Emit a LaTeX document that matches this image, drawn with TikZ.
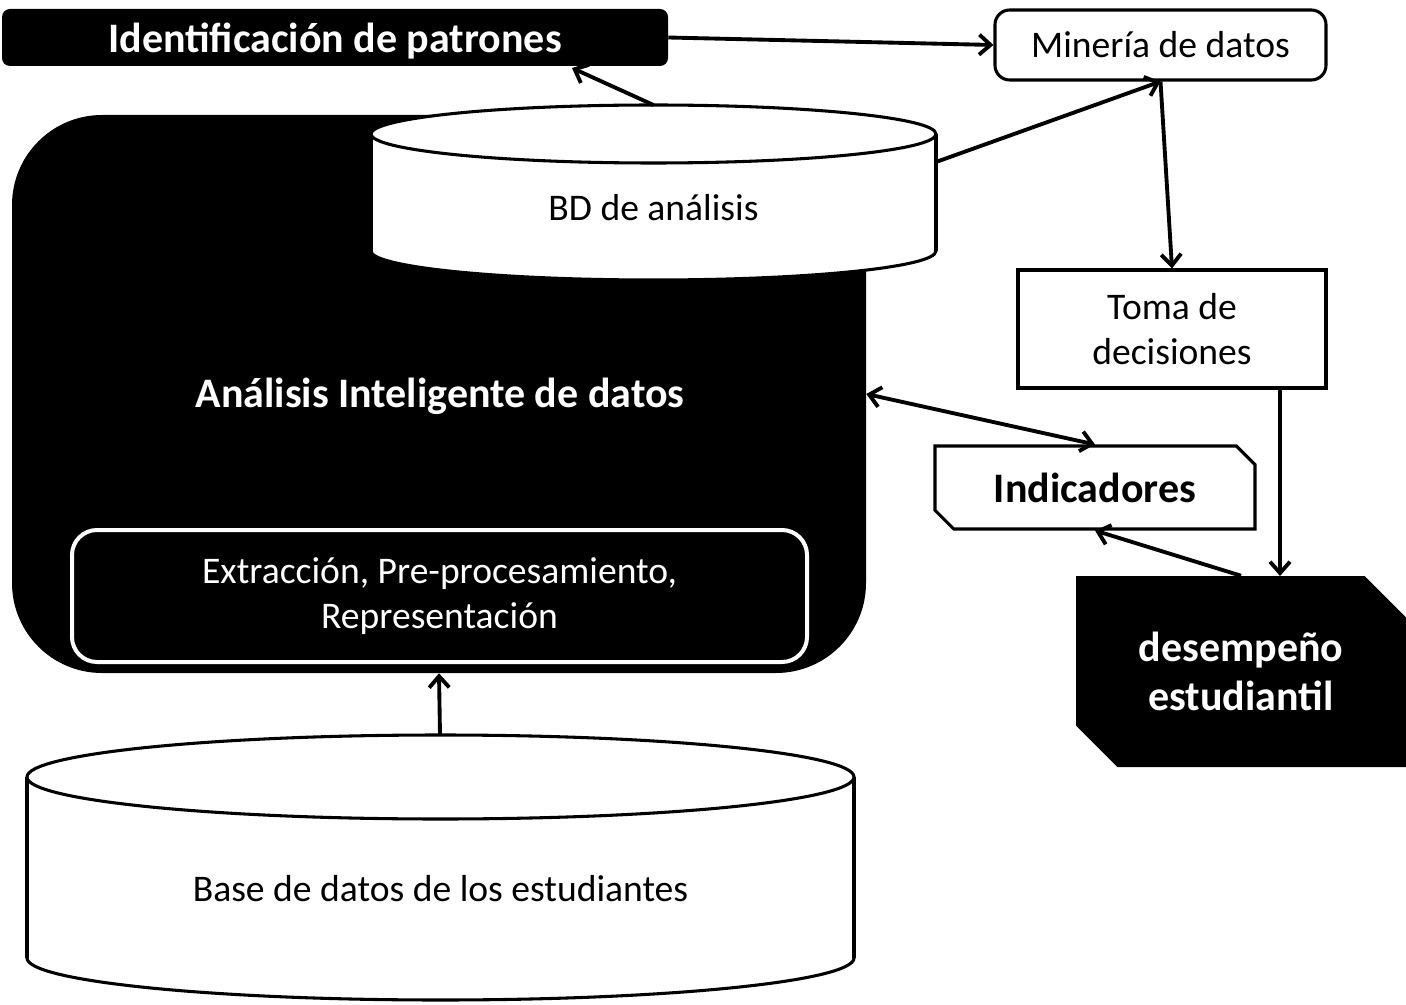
\documentclass[tikz,border=0pt]{standalone}
\usepackage{fontspec}
\setmainfont{Carlito}
\usetikzlibrary{arrows.meta,shapes.misc}
\begin{document}
\begin{tikzpicture}[x=0.75pt,y=-0.75pt,
  regtext/.style={font=\fontsize{28.2}{33.5}\selectfont, align=center},
  boldtext/.style={font=\fontsize{31.5}{36.75}\selectfont\bfseries, align=center},
  outline/.style={draw=black, line width=2.3pt},
  tip/.style={},
  arr/.style={line width=2.9pt, -{Straight Barb[length=8.5pt,width=15pt,line width=2.9pt]}},
  darr/.style={line width=2.9pt, {Straight Barb[length=8.5pt,width=15pt,line width=2.9pt]}-{Straight Barb[length=8.5pt,width=15pt,line width=2.9pt]}},
  cutbox/.style={chamfered rectangle, chamfered rectangle corners={north east,south west}, inner sep=0pt}
]
\fill[white] (0,0) rectangle (1406,1005);
\useasboundingbox (0,0) rectangle (1406,1005);

% Identificacion de patrones
\node[fill=black, rounded corners=6pt, minimum width=499.5pt, minimum height=42.75pt, inner sep=0pt, text depth=0pt, text=white, boldtext] (idp) at (335,37.5) {Identificación de patrones};

% Mineria de datos
\node[outline, fill=white, rounded corners=11pt, minimum width=248.25pt, minimum height=52.5pt, inner sep=0pt, regtext] (min) at (1160.5,45) {Minería de datos};

% Big black rounded box
\node[fill=black, rounded corners=67.5pt, minimum width=640.5pt, minimum height=418.5pt, inner sep=0pt] (big) at (439,394) {};
\node[boldtext, text=white] (ana) at (440,396) {Análisis Inteligente de datos};

% BD de analisis cylinder
\fill[white] (371,134) rectangle (936,251);
\fill[white] (653.5,251) ellipse [x radius=282.5, y radius=29];
\begin{scope}
  \clip (350,251) rectangle (960,300);
  \draw[line width=2.3pt] (653.5,251) ellipse [x radius=282.5, y radius=29];
\end{scope}
\draw[line width=2.3pt] (371,134) -- (371,251);
\draw[line width=2.3pt] (936,134) -- (936,251);
\draw[line width=2.3pt, fill=white] (653.5,134) ellipse [x radius=282.5, y radius=29];
\node[regtext] (bd) at (653.5,208) {BD de análisis};
\coordinate (bdT) at (653.5,105);
\coordinate (bdR) at (936,162);

% Extraccion box
\node[draw=white, line width=3pt, fill=black, rounded corners=18.75pt, minimum width=551.25pt, minimum height=99pt, inner sep=0pt, text=white, regtext] (ext) at (439.5,596) {Extracción, Pre-procesamiento,\\Representación};

% Base de datos cylinder
\fill[white] (27,777) rectangle (854,958);
\fill[white] (440.5,958) ellipse [x radius=413.5, y radius=42];
\begin{scope}
  \clip (10,958) rectangle (870,1005);
  \draw[line width=2.3pt] (440.5,958) ellipse [x radius=413.5, y radius=42];
\end{scope}
\draw[line width=2.3pt] (27,777) -- (27,958);
\draw[line width=2.3pt] (854,777) -- (854,958);
\draw[line width=2.3pt, fill=white] (440.5,777) ellipse [x radius=413.5, y radius=42];
\node[regtext] (base) at (440.5,889) {Base de datos de los estudiantes};
\coordinate (baseT) at (440,735);

% Toma de decisiones
\node[outline, fill=white, minimum width=231pt, minimum height=88.5pt, inner sep=0pt, regtext] (toma) at (1172,329) {Toma de\\decisiones};

% Indicadores
\node[cutbox, outline, fill=white, chamfered rectangle xsep=7pt, chamfered rectangle ysep=7pt, minimum width=240pt, minimum height=62.25pt, boldtext] (ind) at (1095,487.5) {Indicadores};

% desempeno estudiantil
\node[cutbox, fill=black, chamfered rectangle xsep=15.5pt, chamfered rectangle ysep=15.5pt, minimum width=247.5pt, minimum height=143.25pt, text=white, boldtext] (des) at (1241,671.5) {desempeño\\estudiantil};

% Connectors
\coordinate (idpB) at (572,68);
\coordinate (tomaB) at (1280,387);
\coordinate (desT) at (1280,576);
\draw[arr] (idp.east) -- (min.west);
\draw[arr] (bdT) -- (idpB);
\draw[arr] (bdR) -- (min.south);
\draw[arr] (min.south) -- (toma.north);
\draw[darr] (big.east) -- (ind.north);
\draw[arr] (tomaB) -- (desT);
\draw[arr] (des.north) -- (ind.south);
\draw[arr] (baseT) -- (big.south);
\end{tikzpicture}
\end{document}
